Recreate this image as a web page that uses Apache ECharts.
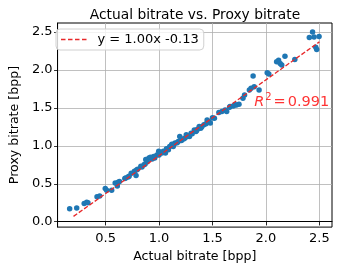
<!DOCTYPE html>
<html><head><meta charset="utf-8">
<script src="https://cdn.jsdelivr.net/npm/echarts@6/dist/echarts.min.js"></script>
<style>html,body{margin:0;padding:0;background:#fff}#c{width:338px;height:268px}</style>
</head><body><div id="c"></div>
<script>
const actualX = [0.164,0.23,0.30,0.324,0.335,0.42,0.445,0.497,0.51,0.557,0.59,0.618,0.61,0.688,0.71,0.74,0.77,0.785,0.80,0.83,0.86,0.876,0.906,0.936,0.95,0.98,0.997,1.027,1.06,1.088,1.12,1.133,1.15,1.18,1.194,1.209,1.24,1.255,1.285,1.30,1.33,1.345,1.376,1.39,1.42,1.45,1.467,1.48,1.518,1.588,1.618,1.633,1.664,1.694,1.724,1.748,1.785,1.80,1.845,1.861,1.88,1.89,1.936,2.012,2.027,2.10,2.118,2.133,2.148,2.178,2.27,2.406,2.436,2.45,2.466,2.475,2.497,
0.72,0.79,0.84,0.89,0.92,0.96,1.0,1.04,1.07,1.10,1.14,1.17,1.21,1.23,1.27,1.31,1.36,1.40,1.44,1.50,1.56,1.66,1.71,0.63,0.68,0.87,1.12,1.26,1.35];
const proxyY = [0.171,0.18,0.24,0.258,0.25,0.33,0.34,0.437,0.415,0.415,0.51,0.52,0.47,0.577,0.59,0.64,0.665,0.61,0.69,0.73,0.75,0.82,0.84,0.826,0.86,0.88,0.93,0.905,0.905,0.95,1.01,0.99,1.036,1.058,1.124,1.08,1.10,1.146,1.124,1.167,1.21,1.19,1.255,1.233,1.277,1.342,1.32,1.30,1.364,1.452,1.474,1.452,1.517,1.526,1.539,1.548,1.627,1.67,1.736,1.758,1.92,1.78,1.736,1.963,1.946,2.108,2.129,2.086,2.064,2.182,2.138,2.427,2.50,2.436,2.30,2.27,2.44,
0.60,0.68,0.72,0.79,0.85,0.84,0.88,0.93,0.96,0.99,1.02,1.04,1.07,1.09,1.13,1.16,1.22,1.25,1.29,1.37,1.44,1.51,1.54,0.53,0.57,0.76,1.02,1.12,1.20];
const slope = 1.00, intercept = -0.13;
const fitRange = [0.2, 2.5];
const xTicks = [0.5, 1.0, 1.5, 2.0, 2.5];
const yTicks = [0.0, 0.5, 1.0, 1.5, 2.0, 2.5];
const r2 = 0.991;
const labelPos = [1.89, 1.58];

const FONT = 'DejaVu Sans';
const pts = actualX.map((x,i)=>[x, proxyY[i]]);
const fit = fitRange.map(x=>[x, slope*x+intercept]);
const fmt = v => v.toFixed(1);
const RED = '#e8282a';
const dashIcon = 'path://M0,0h4.5v1.4h-4.5z M7,0h4.5v1.4h-4.5z M14,0h4.5v1.4h-4.5z M21,0h4.5v1.4h-4.5z';
const axisCommon = {
  axisLine:{show:true,lineStyle:{color:'#000',width:1}},
  axisTick:{show:true,length:3.5,lineStyle:{color:'#000',width:0.8}},
  axisLabel:{color:'#000',fontSize:13,fontFamily:FONT,formatter:fmt},
  splitLine:{show:true,lineStyle:{color:'#b0b0b0',width:0.8}},
  nameTextStyle:{color:'#000',fontSize:12.6,fontFamily:FONT}
};
const chart = echarts.init(document.getElementById('c'));
chart.setOption({
  animation:false,
  title:{text:'Actual bitrate vs. Proxy bitrate',left:190,top:3,textAlign:'center',
    textStyle:{fontFamily:FONT,fontSize:13.8,fontWeight:'normal',color:'#000'}},
  grid:{left:49,right:6,top:23,bottom:40,show:true,borderColor:'#000',borderWidth:1,backgroundColor:'transparent'},
  legend:{data:[{name:'y = 1.00x -0.13',icon:dashIcon,itemStyle:{color:RED}}],left:56,top:29,orient:'vertical',
    backgroundColor:'rgba(255,255,255,0.8)',borderColor:'#d0d0d0',borderWidth:1,borderRadius:4,
    padding:[4,5,4,5],itemWidth:25.5,itemHeight:1.4,itemGap:4,
    textStyle:{fontFamily:FONT,fontSize:13,color:'#000',padding:[0,0,0,6]}},
  xAxis:Object.assign({}, axisCommon, {type:'value',min:0.051,max:2.618,name:'Actual bitrate [bpp]',
    nameLocation:'middle',nameGap:21,
    axisTick:Object.assign({},axisCommon.axisTick,{customValues:xTicks}),
    axisLabel:Object.assign({},axisCommon.axisLabel,{customValues:xTicks,margin:5})}),
  yAxis:Object.assign({}, axisCommon, {type:'value',min:-0.071,max:2.619,name:'Proxy bitrate [bpp]',
    nameLocation:'middle',nameGap:35,
    axisTick:Object.assign({},axisCommon.axisTick,{customValues:yTicks}),
    axisLabel:Object.assign({},axisCommon.axisLabel,{customValues:yTicks,margin:5})}),
  series:[
    {type:'scatter',data:pts,symbolSize:5.5,itemStyle:{color:'#1f77b4',opacity:1},z:2},
    {name:'y = 1.00x -0.13',type:'line',data:fit,showSymbol:false,symbol:'none',
      lineStyle:{color:RED,type:[4.5,2],width:1.3},itemStyle:{color:RED},z:3},
    {type:'scatter',data:[labelPos],symbolSize:0,silent:true,z:4,
      label:{show:true,position:'right',distance:0,
        formatter:'{i|R}{s|2}{e|=}{n|'+r2.toFixed(3)+'}',
        rich:{i:{fontStyle:'italic',fontFamily:FONT,fontSize:14.5,color:'#ff0000'},
              s:{fontFamily:FONT,fontSize:10,color:'#ff0000',verticalAlign:'top',padding:[0,0,9,1]},
              e:{fontFamily:FONT,fontSize:14.5,color:'#ff0000',padding:[0,2,0,2]},
              n:{fontFamily:FONT,fontSize:14.5,color:'#ff0000'}}}}
  ]
});
</script></body></html>
